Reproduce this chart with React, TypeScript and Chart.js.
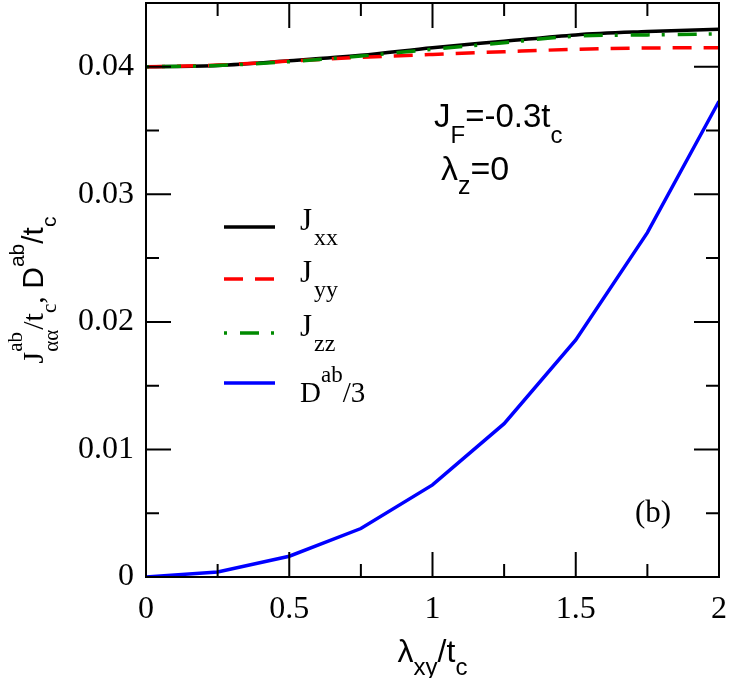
import React, { useEffect, useRef } from "react";
import { Chart, registerables } from "chart.js";

Chart.register(...registerables);

// Coupling strength lambda_xy / t_c
const LAMBDA = [0, 0.25, 0.5, 0.75, 1, 1.25, 1.5, 1.75, 2];
// Exchange couplings J_aa^ab / t_c
const J_XX = [0.04, 0.0401, 0.04047, 0.0409, 0.0415, 0.042, 0.0425, 0.04276, 0.04295];
const J_YY = [0.04, 0.04013, 0.04045, 0.04074, 0.04097, 0.04118, 0.04137, 0.04147, 0.0415];
const J_ZZ = [0.04, 0.0401, 0.0404, 0.04084, 0.04137, 0.04189, 0.0424, 0.0425, 0.04258];
// DM interaction D^ab / (3 t_c)
const D_AB3 = [0, 0.0004, 0.00163, 0.0038, 0.00722, 0.01202, 0.01858, 0.027, 0.0373];

const X_TICKS = [0, 0.5, 1, 1.5, 2];
const X_TICK_LABELS = ["0", "0.5", "1", "1.5", "2"];
const X_MINOR = [0.25, 0.75, 1.25, 1.75];
const Y_TICKS = [0, 0.01, 0.02, 0.03, 0.04];
const Y_TICK_LABELS = ["0", "0.01", "0.02", "0.03", "0.04"];
const Y_MINOR = [0.005, 0.015, 0.025, 0.035];

const SERIF = '"Liberation Serif", "DejaVu Serif", serif';
const SANS = '"Liberation Sans", Arial, sans-serif';

type Seg = { t: string; f: string; dy?: number; dx?: number; back?: boolean };

// Width of a run of text pieces (for sub/superscripts)
function richWidth(ctx: CanvasRenderingContext2D, segs: Seg[]) {
  let x = 0, prevStart = 0, maxX = 0;
  for (const s of segs) {
    ctx.font = s.f;
    const start = s.back ? prevStart : x;
    const w = ctx.measureText(s.t).width;
    const end = start + (s.dx || 0) + w;
    x = s.back ? Math.max(x, end) : end;
    prevStart = start;
    maxX = Math.max(maxX, x);
  }
  return maxX;
}

function drawRich(ctx: CanvasRenderingContext2D, x0: number, y0: number, segs: Seg[]) {
  let x = x0, prevStart = x0;
  ctx.textBaseline = "alphabetic";
  ctx.textAlign = "left";
  for (const s of segs) {
    ctx.font = s.f;
    const start = s.back ? prevStart : x;
    const px = start + (s.dx || 0);
    ctx.fillText(s.t, px, y0 + (s.dy || 0));
    const end = px + ctx.measureText(s.t).width;
    x = s.back ? Math.max(x, end) : end;
    prevStart = start;
  }
}

const LEGEND = [
  { color: "#000000", dash: [] as number[], segs: [{ t: "J", f: `31px ${SERIF}`, dy: 3 }, { t: "xx", f: `24px ${SERIF}`, dy: 18, dx: 2 }] },
  { color: "#ff0000", dash: [19, 12], segs: [{ t: "J", f: `31px ${SERIF}`, dy: 3 }, { t: "yy", f: `24px ${SERIF}`, dy: 18, dx: 2 }] },
  { color: "#008a00", dash: [3, 13, 19, 12], segs: [{ t: "J", f: `31px ${SERIF}`, dy: 3 }, { t: "zz", f: `24px ${SERIF}`, dy: 18, dx: 2 }] },
  {
    color: "#0000ff", dash: [] as number[], segs: [
      { t: "D", f: `29px ${SERIF}`, dy: 19 },
      { t: "ab", f: `23px ${SERIF}`, dy: -1 },
      { t: "/3", f: `29px ${SERIF}`, dy: 19 },
    ],
  },
];
const LEGEND_ROWS = [227, 279, 333, 383];

const decorations = {
  id: "decorations",
  afterDraw(chart: any) {
    const ctx: CanvasRenderingContext2D = chart.ctx;
    const { left, right, top, bottom } = chart.chartArea;
    const xs = chart.scales.x;
    const ys = chart.scales.y;
    ctx.save();
    ctx.strokeStyle = "#000";
    ctx.fillStyle = "#000";
    ctx.lineWidth = 2;
    ctx.setLineDash([]);
    // frame
    ctx.strokeRect(left, top, right - left, bottom - top);
    // inward ticks on all four sides
    ctx.beginPath();
    const tick = (v: number, len: number, axis: "x" | "y") => {
      if (axis === "x") {
        const px = xs.getPixelForValue(v);
        ctx.moveTo(px, bottom); ctx.lineTo(px, bottom - len);
        ctx.moveTo(px, top); ctx.lineTo(px, top + len);
      } else {
        const py = ys.getPixelForValue(v);
        ctx.moveTo(left, py); ctx.lineTo(left + len, py);
        ctx.moveTo(right, py); ctx.lineTo(right - len, py);
      }
    };
    X_TICKS.forEach((v) => tick(v, 25, "x"));
    X_MINOR.forEach((v) => tick(v, 13, "x"));
    Y_TICKS.forEach((v) => tick(v, 25, "y"));
    Y_MINOR.forEach((v) => tick(v, 13, "y"));
    ctx.stroke();

    // legend
    LEGEND.forEach((item, i) => {
      const y = LEGEND_ROWS[i];
      ctx.strokeStyle = item.color;
      ctx.lineWidth = 3.5;
      ctx.setLineDash(item.dash);
      ctx.beginPath();
      ctx.moveTo(224, y);
      ctx.lineTo(275, y);
      ctx.stroke();
      ctx.setLineDash([]);
      ctx.fillStyle = "#000";
      drawRich(ctx, 300, y, item.segs);
    });

    // annotations
    drawRich(ctx, 434, 127, [
      { t: "J", f: `33px ${SANS}` },
      { t: "F", f: `24px ${SANS}`, dy: 16 },
      { t: "=-0.3t", f: `33px ${SANS}` },
      { t: "c", f: `24px ${SANS}`, dy: 16 },
    ]);
    drawRich(ctx, 441, 180, [
      { t: "λ", f: `34px ${SANS}` },
      { t: "z", f: `25px ${SANS}`, dy: 14 },
      { t: "=0", f: `34px ${SANS}` },
    ]);
    ctx.font = `31px ${SERIF}`;
    ctx.fillText("(b)", 635, 522);

    // x axis title
    const xt: Seg[] = [
      { t: "λ", f: `32px ${SANS}` },
      { t: "xy", f: `24px ${SANS}`, dy: 13 },
      { t: "/t", f: `32px ${SANS}` },
      { t: "c", f: `24px ${SANS}`, dy: 13 },
    ];
    const xw = richWidth(ctx, xt);
    drawRich(ctx, (left + right) / 2 - xw / 2, 662, xt);

    // y axis title (rotated)
    const yt: Seg[] = [
      { t: "J", f: `30px ${SERIF}` },
      { t: "ab", f: `21px ${SERIF}`, dy: -21 },
      { t: "αα", f: `21px ${SERIF}`, dy: 15, back: true },
      { t: "/t", f: `30px ${SERIF}` },
      { t: "c", f: `21px ${SERIF}`, dy: 13 },
      { t: ", ", f: `30px ${SERIF}` },
      { t: "D", f: `30px ${SANS}` },
      { t: "ab", f: `21px ${SANS}`, dy: -19 },
      { t: "/t", f: `30px ${SANS}` },
      { t: "c", f: `21px ${SANS}`, dy: 13 },
    ];
    const yw = richWidth(ctx, yt);
    ctx.save();
    ctx.translate(43, (top + bottom) / 2);
    ctx.rotate(-Math.PI / 2);
    drawRich(ctx, -yw / 2, 0, yt);
    ctx.restore();

    ctx.restore();
  },
};

export default function App() {
  const ref = useRef<HTMLCanvasElement>(null);
  useEffect(() => {
    document.body.style.margin = "0";
    const toXY = (ys: number[]) => LAMBDA.map((x, i) => ({ x, y: ys[i] }));
    const chart = new Chart(ref.current!, {
      type: "line",
      data: {
        datasets: [
          { label: "Jxx", data: toXY(J_XX), borderColor: "#000000", borderWidth: 3.5, cubicInterpolationMode: "monotone", order: 2 },
          { label: "Jyy", data: toXY(J_YY), borderColor: "#ff0000", borderWidth: 3.5, borderDash: [19, 12], cubicInterpolationMode: "monotone", order: 1 },
          { label: "Jzz", data: toXY(J_ZZ), borderColor: "#008a00", borderWidth: 3.5, borderDash: [3, 13, 19, 12], cubicInterpolationMode: "monotone", order: 0 },
          { label: "D/3", data: toXY(D_AB3), borderColor: "#0000ff", borderWidth: 3.5, tension: 0, order: 3 },
        ],
      },
      options: {
        animation: false,
        responsive: false,
        maintainAspectRatio: false,
        layout: { padding: { top: 3, right: 13, left: 0, bottom: 0 } },
        elements: { point: { radius: 0 }, line: { borderCapStyle: "butt" } },
        plugins: { legend: { display: false }, tooltip: { enabled: false } },
        scales: {
          x: {
            type: "linear",
            min: 0,
            max: 2,
            grid: { display: false, drawTicks: false },
            border: { display: false },
            afterBuildTicks: (s: any) => { s.ticks = X_TICKS.map((v) => ({ value: v })); },
            afterFit: (s: any) => {
              s.height = 101;
              s.paddingLeft = 0;
              s.paddingRight = 0;
            },
            ticks: {
              autoSkip: false,
              maxRotation: 0,
              padding: 13,
              color: "#000",
              font: { family: SERIF, size: 32 },
              callback: (v: any) => X_TICK_LABELS[X_TICKS.indexOf(Number(v))] ?? "",
            },
          },
          y: {
            type: "linear",
            min: 0,
            max: 0.045,
            grid: { display: false, drawTicks: false },
            border: { display: false },
            afterBuildTicks: (s: any) => { s.ticks = Y_TICKS.map((v) => ({ value: v })); },
            afterFit: (s: any) => {
              s.width = 146;
              s.paddingTop = 0;
              s.paddingBottom = 0;
            },
            ticks: {
              autoSkip: false,
              padding: 12,
              color: "#000",
              font: { family: SERIF, size: 32 },
              callback: (v: any) => {
                const i = Y_TICKS.findIndex((t) => Math.abs(t - Number(v)) < 1e-9);
                return i >= 0 ? Y_TICK_LABELS[i] : "";
              },
            },
          },
        },
      },
      plugins: [decorations],
    });
    return () => chart.destroy();
  }, []);
  return <canvas ref={ref} width={732} height={678} style={{ display: "block" }} />;
}
